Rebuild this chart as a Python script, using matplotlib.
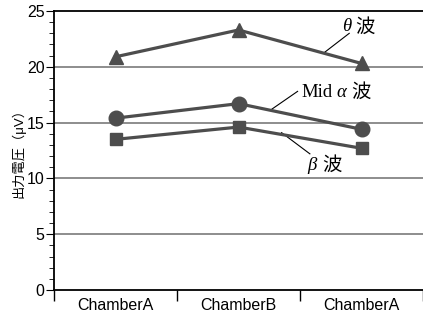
import matplotlib
matplotlib.use('Agg')
import matplotlib.pyplot as plt
from matplotlib.ticker import MultipleLocator
from matplotlib.transforms import offset_copy

# data
categories = ['ChamberA', 'ChamberB', 'ChamberA']
theta = [20.9, 23.3, 20.3]
mid_alpha = [15.4, 16.7, 14.4]
beta = [13.5, 14.6, 12.7]

plt.rcParams['font.family'] = ['Liberation Sans', 'Noto Sans CJK JP']
col = '#4d4d4d'

fig = plt.figure(figsize=(4.23, 3.24), dpi=100)
ax = fig.add_axes([0.128, 0.105, 0.872, 0.861])

x = [i + 0.5 for i in range(len(categories))]
ax.plot(x, theta, color=col, lw=2.3, marker='^', ms=10, zorder=3)
ax.plot(x, mid_alpha, color=col, lw=2.3, marker='o', ms=10.5, zorder=3)
ax.plot(x, beta, color=col, lw=2.3, marker='s', ms=9, zorder=3)

ax.set_xlim(0, 3)
ax.set_ylim(0, 25)
for g in [5, 10, 15, 20]:
    ax.axhline(g, color='#7a7a7a', lw=1.2, zorder=1)

ax.yaxis.set_major_locator(MultipleLocator(5))
ax.yaxis.set_minor_locator(MultipleLocator(1))
ax.set_xticks([0, 1, 2, 3])
ax.set_xticklabels([])
ax.set_xticks(x, minor=True)
ax.set_xticklabels(categories, minor=True, fontsize=11.5)
ax.tick_params(axis='x', which='minor', length=0, pad=6)
ax.tick_params(axis='x', which='major', direction='out', length=8, width=1)
ax.tick_params(axis='y', which='major', length=6, labelsize=11.5, pad=1)
ax.tick_params(axis='y', which='minor', length=3.5)

ax.spines['right'].set_visible(False)
for s in ['left', 'bottom', 'top']:
    ax.spines[s].set_linewidth(1.3)

ax.set_ylabel('出力電圧（μV）', fontsize=9.5, labelpad=1)


def label(xc, yc, parts):
    # parts: (text, style, advance in points) drawn left to right from (xc, yc)
    off = 0
    for txt, style, w in parts:
        if txt == '波':
            fam, fs = ['Noto Sans CJK JP'], 14
        else:
            fam, fs = ['Liberation Serif', 'DejaVu Serif'], 13.5
        tr = offset_copy(ax.transData, fig=fig, x=off, y=0, units='points')
        ax.text(xc, yc, txt, transform=tr, family=fam, style=style,
                fontsize=fs, ha='left', va='center')
        off += w


label(2.34, 23.57, [('θ', 'italic', 10), ('波', 'normal', 14)])
ax.plot([2.20, 2.40], [21.3, 23.0], color='black', lw=0.8)
label(2.01, 17.74, [('Mid', 'normal', 25.5), ('α', 'italic', 10.5), ('波', 'normal', 14)])
ax.plot([1.77, 1.98], [16.2, 17.8], color='black', lw=0.8)
label(2.06, 11.2, [('β', 'italic', 10.8), ('波', 'normal', 14)])
ax.plot([1.85, 2.08], [14.1, 12.2], color='black', lw=0.8)

fig.savefig('out.png', dpi=100)
